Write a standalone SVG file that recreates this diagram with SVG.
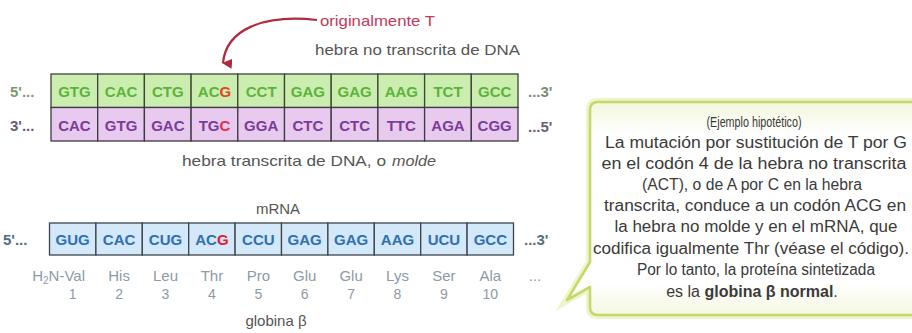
<svg xmlns="http://www.w3.org/2000/svg" width="912" height="333" viewBox="0 0 912 333">
<style>
text{font-family:"Liberation Sans",Arial,sans-serif}
.cg{fill:#ccedb0;stroke:#3b4636;stroke-width:1.3}
.cp{fill:#e7caee;stroke:#3f3646;stroke-width:1.3}
.cb{fill:#d3e8f8;stroke:#3c444c;stroke-width:1.3}
.tg{font-size:15px;font-weight:bold;fill:#5bb33a;text-anchor:middle}
.tp{font-size:15px;font-weight:bold;fill:#7a3c98;text-anchor:middle}
.tb{font-size:15px;font-weight:bold;fill:#2f6fb2;text-anchor:middle}
.mut{fill:#e8421e}
.mutp{fill:#e0304c}
.mutb{fill:#e0202c}
.end{font-size:15px;font-weight:bold}
.lbl{font-size:15px;fill:#555}
.aa{font-size:15px;fill:#8d9aa6;text-anchor:middle}
.num{font-size:14px;fill:#8d9aa6;text-anchor:middle}
.ct{font-size:16px;fill:#3a3a3a;text-anchor:middle}
</style>
<defs>
<marker id="ah" viewBox="0 0 10 10" refX="5" refY="9" markerWidth="10" markerHeight="10" markerUnits="userSpaceOnUse" orient="auto-start-reverse">
<path d="M0,0 L10,0 L5,10 Z" fill="#b02a3e"/>
</marker>
<linearGradient id="glow" x1="0" y1="0" x2="0" y2="1">
<stop offset="0" stop-color="#f3f7dc"/>
<stop offset="0.15" stop-color="#ffffff"/>
<stop offset="0.85" stop-color="#ffffff"/>
<stop offset="1" stop-color="#f5f8e2"/>
</linearGradient>
</defs>
<rect width="912" height="333" fill="#ffffff"/>

<g id="connectors">
<path d="M317,20 C262,14 226,30 223,63" fill="none" stroke="#b02a3e" stroke-width="2.2" marker-end="url(#ah)"/>
</g>

<g id="label-original">
<text x="320" y="26" font-size="15" fill="#c43a5a" textLength="115" lengthAdjust="spacingAndGlyphs">originalmente T</text>
</g>
<g id="label-notrans">
<text class="lbl" x="315" y="55" textLength="205" lengthAdjust="spacingAndGlyphs">hebra no transcrita de DNA</text>
</g>

<g id="dna-top">
<text class="end" x="10" y="97" fill="#7d9a6e">5'...</text>
<rect class="cg" x="51" y="74" width="46.7" height="33.5"/>
<rect class="cg" x="97.7" y="74" width="46.7" height="33.5"/>
<rect class="cg" x="144.4" y="74" width="46.7" height="33.5"/>
<rect class="cg" x="191.1" y="74" width="46.7" height="33.5"/>
<rect class="cg" x="237.8" y="74" width="46.7" height="33.5"/>
<rect class="cg" x="284.5" y="74" width="46.7" height="33.5"/>
<rect class="cg" x="331.2" y="74" width="46.7" height="33.5"/>
<rect class="cg" x="377.9" y="74" width="46.7" height="33.5"/>
<rect class="cg" x="424.6" y="74" width="46.7" height="33.5"/>
<rect class="cg" x="471.3" y="74" width="46.7" height="33.5"/>
<text class="tg" x="74.4" y="97">GTG</text>
<text class="tg" x="121.1" y="97">CAC</text>
<text class="tg" x="167.8" y="97">CTG</text>
<text class="tg" x="214.5" y="97">AC<tspan class="mut">G</tspan></text>
<text class="tg" x="261.2" y="97">CCT</text>
<text class="tg" x="307.9" y="97">GAG</text>
<text class="tg" x="354.6" y="97">GAG</text>
<text class="tg" x="401.3" y="97">AAG</text>
<text class="tg" x="448" y="97">TCT</text>
<text class="tg" x="494.7" y="97">GCC</text>
<text class="end" x="528" y="97" fill="#7d8a76">...3'</text>
</g>

<g id="dna-bottom">
<text class="end" x="10" y="131" fill="#6b5c7c">3'...</text>
<rect class="cp" x="51" y="107.5" width="46.7" height="33.5"/>
<rect class="cp" x="97.7" y="107.5" width="46.7" height="33.5"/>
<rect class="cp" x="144.4" y="107.5" width="46.7" height="33.5"/>
<rect class="cp" x="191.1" y="107.5" width="46.7" height="33.5"/>
<rect class="cp" x="237.8" y="107.5" width="46.7" height="33.5"/>
<rect class="cp" x="284.5" y="107.5" width="46.7" height="33.5"/>
<rect class="cp" x="331.2" y="107.5" width="46.7" height="33.5"/>
<rect class="cp" x="377.9" y="107.5" width="46.7" height="33.5"/>
<rect class="cp" x="424.6" y="107.5" width="46.7" height="33.5"/>
<rect class="cp" x="471.3" y="107.5" width="46.7" height="33.5"/>
<text class="tp" x="74.4" y="131">CAC</text>
<text class="tp" x="121.1" y="131">GTG</text>
<text class="tp" x="167.8" y="131">GAC</text>
<text class="tp" x="214.5" y="131">TG<tspan class="mutp">C</tspan></text>
<text class="tp" x="261.2" y="131">GGA</text>
<text class="tp" x="307.9" y="131">CTC</text>
<text class="tp" x="354.6" y="131">CTC</text>
<text class="tp" x="401.3" y="131">TTC</text>
<text class="tp" x="448" y="131">AGA</text>
<text class="tp" x="494.7" y="131">CGG</text>
<text class="end" x="528" y="132" fill="#6b5c7c">...5'</text>
</g>

<g id="label-trans">
<text class="lbl" x="182" y="166" textLength="204" lengthAdjust="spacingAndGlyphs">hebra transcrita de DNA, o</text>
<text class="lbl" x="392" y="166" font-style="italic" textLength="44" lengthAdjust="spacingAndGlyphs">molde</text>
</g>

<g id="label-mrna">
<text class="lbl" x="278" y="214" text-anchor="middle">mRNA</text>
</g>

<g id="mrna">
<text class="end" x="3" y="245" fill="#4f6c88">5'...</text>
<rect class="cb" x="49.5" y="223" width="46.4" height="32"/>
<rect class="cb" x="95.9" y="223" width="46.4" height="32"/>
<rect class="cb" x="142.3" y="223" width="46.4" height="32"/>
<rect class="cb" x="188.7" y="223" width="46.4" height="32"/>
<rect class="cb" x="235.1" y="223" width="46.4" height="32"/>
<rect class="cb" x="281.5" y="223" width="46.4" height="32"/>
<rect class="cb" x="327.9" y="223" width="46.4" height="32"/>
<rect class="cb" x="374.3" y="223" width="46.4" height="32"/>
<rect class="cb" x="420.7" y="223" width="46.4" height="32"/>
<rect class="cb" x="467.1" y="223" width="46.4" height="32"/>
<text class="tb" x="72.7" y="245">GUG</text>
<text class="tb" x="119.1" y="245">CAC</text>
<text class="tb" x="165.5" y="245">CUG</text>
<text class="tb" x="211.9" y="245">AC<tspan class="mutb">G</tspan></text>
<text class="tb" x="258.3" y="245">CCU</text>
<text class="tb" x="304.7" y="245">GAG</text>
<text class="tb" x="351.1" y="245">GAG</text>
<text class="tb" x="397.5" y="245">AAG</text>
<text class="tb" x="443.9" y="245">UCU</text>
<text class="tb" x="490.3" y="245">GCC</text>
<text class="end" x="524" y="245" fill="#5a6e82">...3'</text>
</g>

<g id="protein">
<text class="aa" x="85" y="281" style="text-anchor:end">H<tspan font-size="10" dy="3">2</tspan><tspan dy="-3">N-Val</tspan></text>
<text class="aa" x="119.1" y="281">His</text>
<text class="aa" x="165.5" y="281">Leu</text>
<text class="aa" x="211.9" y="281">Thr</text>
<text class="aa" x="258.3" y="281">Pro</text>
<text class="aa" x="304.7" y="281">Glu</text>
<text class="aa" x="351.1" y="281">Glu</text>
<text class="aa" x="397.5" y="281">Lys</text>
<text class="aa" x="443.9" y="281">Ser</text>
<text class="aa" x="490.3" y="281">Ala</text>
<text class="aa" x="535" y="281">...</text>
<text class="num" x="72.7" y="299">1</text>
<text class="num" x="119.1" y="299">2</text>
<text class="num" x="165.5" y="299">3</text>
<text class="num" x="211.9" y="299">4</text>
<text class="num" x="258.3" y="299">5</text>
<text class="num" x="304.7" y="299">6</text>
<text class="num" x="351.1" y="299">7</text>
<text class="num" x="397.5" y="299">8</text>
<text class="num" x="443.9" y="299">9</text>
<text class="num" x="490.3" y="299">10</text>
</g>

<g id="label-globina">
<text class="lbl" x="276" y="326" text-anchor="middle">globina β</text>
</g>

<g id="callout">
<path d="M598,102 H935 V315 H598 Q590,315 590,307 V287 L567,300 L590,262 V110 Q590,102 598,102 Z" fill="none" stroke="#eef4cc" stroke-width="8"/>
<path d="M598,102 H935 V315 H598 Q590,315 590,307 V287 L567,300 L590,262 V110 Q590,102 598,102 Z" fill="url(#glow)" stroke="#c6d968" stroke-width="2.6" stroke-linejoin="round"/>
<text class="ct" x="754" y="127" font-size="14" style="font-size:14px" textLength="95" lengthAdjust="spacingAndGlyphs">(Ejemplo hipotético)</text>
<text class="ct" x="756" y="148" textLength="302" lengthAdjust="spacingAndGlyphs">La mutación por sustitución de T por G</text>
<text class="ct" x="754" y="169" textLength="305" lengthAdjust="spacingAndGlyphs">en el codón 4 de la hebra no transcrita</text>
<text class="ct" x="752" y="190" textLength="220" lengthAdjust="spacingAndGlyphs">(ACT), o de A por C en la hebra</text>
<text class="ct" x="755" y="211" textLength="302" lengthAdjust="spacingAndGlyphs">transcrita, conduce a un codón ACG en</text>
<text class="ct" x="756" y="232" textLength="283" lengthAdjust="spacingAndGlyphs">la hebra no molde y en el mRNA, que</text>
<text class="ct" x="751" y="254" textLength="316" lengthAdjust="spacingAndGlyphs">codifica igualmente Thr (véase el código).</text>
<text class="ct" x="756" y="275" textLength="238" lengthAdjust="spacingAndGlyphs">Por lo tanto, la proteína sintetizada</text>
<text class="ct" x="752" y="297">es la <tspan font-weight="bold">globina β normal</tspan>.</text>
</g>
</svg>
